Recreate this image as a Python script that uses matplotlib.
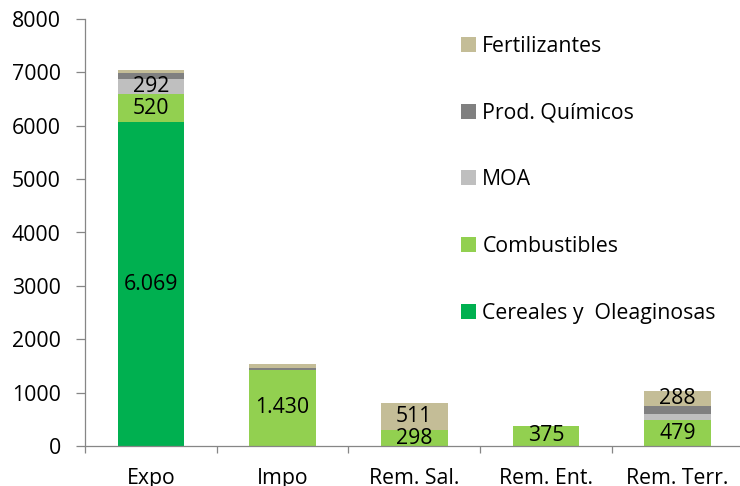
import matplotlib
matplotlib.use("Agg")
import matplotlib.pyplot as plt
import numpy as np

# datos
categorias = ['Expo', 'Impo', 'Rem. Sal.', 'Rem. Ent.', 'Rem. Terr.']
cereales = [6069, 0, 0, 0, 0]
combustibles = [520, 1430, 298, 375, 479]
moa = [292, 0, 0, 0, 115]
quimicos = [100, 25, 0, 0, 150]
fertilizantes = [70, 90, 511, 0, 288]

series = [
    ("Cereales y  Oleaginosas", cereales, "#00B050"),
    ("Combustibles", combustibles, "#92D050"),
    ("MOA", moa, "#BFBFBF"),
    ("Prod. Químicos", quimicos, "#808080"),
    ("Fertilizantes", fertilizantes, "#C4BD97"),
]

plt.rcParams['font.family'] = ['Open Sans', 'DejaVu Sans']
fs = 15.3

fig = plt.figure(figsize=(7.4, 4.86), dpi=100)
ax = fig.add_axes([85/740, 1 - 446/486, (743.5 - 85)/740, (446 - 19)/486])

x = np.arange(len(categorias))
base = np.zeros(len(categorias))
handles = []
for nombre, vals, color in series:
    vals = np.array(vals, dtype=float)
    b = ax.bar(x, vals, 0.505, bottom=base, color=color, label=nombre, linewidth=0)
    handles.append(b)
    # etiquetas solo en los segmentos grandes
    for xi, v, b0 in zip(x, vals, base):
        if v >= 250:
            txt = f"{int(v):,}".replace(",", ".")
            ax.text(xi, b0 + v / 2, txt, ha='center', va='center', fontsize=fs, color='black')
    base += vals

ax.set_xlim(-0.5, len(categorias) - 0.5)
ax.set_ylim(0, 8000)
ax.set_yticks(range(0, 8001, 1000))

ax.set_xticks(np.arange(-0.5, len(categorias)), minor=False)
ax.set_xticklabels([])
ax.set_xticks(x, minor=True)
ax.set_xticklabels(categorias, minor=True)

gris = "#868686"
for s in ['top', 'right']:
    ax.spines[s].set_visible(False)
for s in ['left', 'bottom']:
    ax.spines[s].set_color(gris)
    ax.spines[s].set_linewidth(0.9)

ax.tick_params(axis='y', which='major', length=6.5, width=0.9, color=gris, pad=11, labelsize=fs)
ax.tick_params(axis='x', which='major', length=5, width=0.9, color=gris)
ax.tick_params(axis='x', which='minor', length=0, pad=16, labelsize=fs)

ley = ax.legend(handles[::-1], [s[0] for s in series][::-1], loc='upper left',
                bbox_to_anchor=(461/740, 1 - 36/486), bbox_transform=fig.transFigure,
                frameon=False, fontsize=fs, borderpad=0, borderaxespad=0,
                handlelength=0.7, handleheight=0.7, handletextpad=0.3, labelspacing=2.15)

fig.savefig("out.png", dpi=100)
